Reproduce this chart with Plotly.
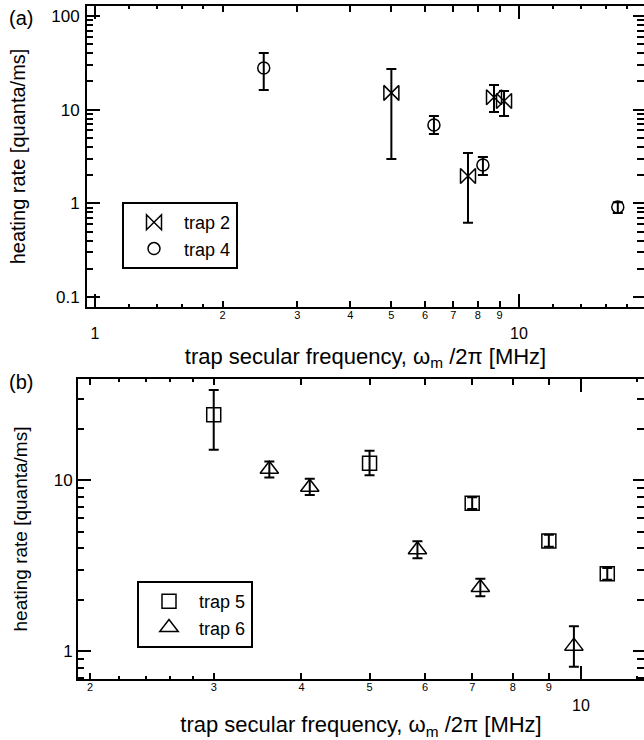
import plotly.graph_objects as go

# ---------------- data ----------------
# panel (a)
trap2_freq = [5.0, 7.58, 8.73, 9.22]
trap2_rate = [15.1, 1.96, 13.6, 12.4]
trap2_hi = [27.2, 3.44, 18.3, 15.8]
trap2_lo = [2.97, 0.62, 9.44, 8.55]

trap4_freq = [2.50, 6.30, 8.22, 17.1]
trap4_rate = [27.9, 6.86, 2.57, 0.914]
trap4_hi = [40.3, 8.55, 3.12, 1.03]
trap4_lo = [16.2, 5.5, 2.01, 0.79]

# panel (b)
trap5_freq = [3.0, 5.0, 7.0, 9.0, 10.9]
trap5_rate = [24.2, 12.6, 7.35, 4.42, 2.84]
trap5_hi = [33.8, 14.9, 7.95, 4.80, 3.07]
trap5_lo = [15.1, 10.7, 6.80, 4.08, 2.62]

trap6_freq = [3.6, 4.11, 5.85, 7.19, 9.77]
trap6_rate = [11.6, 9.1, 3.92, 2.36, 1.07]
trap6_hi = [12.9, 10.2, 4.4, 2.65, 1.40]
trap6_lo = [10.4, 8.2, 3.5, 2.1, 0.81]

# ticks
a_x_major = [1, 10]
a_x_major_text = ["1", "10"]
a_x_mid = [2, 3, 4, 5, 6, 7, 8, 9]
a_x_mid_text = ["2", "3", "4", "5", "6", "7", "8", "9"]
a_x_minor = [1.2, 1.4, 1.6, 1.8, 12, 14, 16, 18]
a_y_major = [0.1, 1, 10, 100]
a_y_major_text = ["0.1", "1", "10", "100"]
a_y_minor = [0.2, 0.3, 0.4, 0.5, 0.6, 0.7, 0.8, 0.9, 2, 3, 4, 5, 6, 7, 8, 9,
             20, 30, 40, 50, 60, 70, 80, 90]

b_x_major = [10]
b_x_major_text = ["10"]
b_x_mid = [2, 3, 4, 5, 6, 7, 8, 9]
b_x_mid_text = ["2", "3", "4", "5", "6", "7", "8", "9"]
b_x_minor = [2.2, 2.4, 2.6, 2.8, 12]
b_y_major = [1, 10]
b_y_major_text = ["1", "10"]
b_y_minor = [0.7, 0.8, 0.9, 2, 3, 4, 5, 6, 7, 8, 9, 20, 30]

x_title = "trap secular frequency, ω<sub>m</sub> /2π [MHz]"
y_title = "heating rate [quanta/ms]"

FONT = "Liberation Sans, Arial, sans-serif"
W, H = 644, 740

# ---------------- layout geometry ----------------
a_dom_x = [87 / W, 1.0]
a_dom_y = [1 - 307 / H, 1 - 6 / H]
b_dom_x = [78 / W, 1.0]
b_dom_y = [1 - 679 / H, 1 - 379 / H]
a_xr = [-0.0189, 1.2948]
a_yr = [-1.1068, 2.1068]
b_xr = [0.2839, 1.0897]
b_yr = [-0.1628, 1.593]

fig = go.Figure()


def add_data(freq, rate, hi, lo, name, symbol, size, xa, ya, legend):
    up = [h - r for h, r in zip(hi, rate)]
    dn = [r - l for r, l in zip(rate, lo)]
    fig.add_trace(go.Scatter(
        x=freq, y=rate, mode="markers", name=name,
        xaxis=xa, yaxis=ya, legend=legend,
        marker=dict(symbol=symbol, size=size, color="black",
                    line=dict(color="black", width=1.5)),
        error_y=dict(type="data", symmetric=False, array=up, arrayminus=dn,
                     color="black", thickness=2, width=5),
    ))


add_data(trap2_freq, trap2_rate, trap2_hi, trap2_lo, "trap 2", "bowtie-open", 15, "x", "y", "legend")
add_data(trap4_freq, trap4_rate, trap4_hi, trap4_lo, "trap 4", "circle-open", 12, "x", "y", "legend")
add_data(trap5_freq, trap5_rate, trap5_hi, trap5_lo, "trap 5", "square-open", 14, "x2", "y2", "legend2")
add_data(trap6_freq, trap6_rate, trap6_hi, trap6_lo, "trap 6", "triangle-up-open", 16, "x2", "y2", "legend2")

lay = {}


def tick_axis(name, anchor, dom, rng, side, vals, length, text=None, fsize=10,
              standoff=None, overlay=None, line=False, title=None, title_size=20,
              title_standoff=0):
    ax = dict(type="log", domain=dom, range=rng, anchor=anchor, side=side,
              showgrid=False, zeroline=False, ticks="inside", ticklen=length,
              tickwidth=2, tickcolor="black", tickmode="array", tickvals=vals,
              color="black")
    if text is not None:
        ax["ticktext"] = text
        ax["showticklabels"] = True
        ax["tickfont"] = dict(family=FONT, size=fsize, color="black")
        if standoff is not None:
            ax["ticklabelstandoff"] = standoff
    else:
        ax["showticklabels"] = False
    if overlay:
        ax["overlaying"] = overlay
    ax["showline"] = line
    if line:
        ax["linewidth"] = 2
        ax["linecolor"] = "black"
        ax["mirror"] = name.startswith("xaxis")
    if title:
        ax["title"] = dict(text=title, standoff=title_standoff,
                           font=dict(family=FONT, size=title_size, color="black"))
    lay[name] = ax
    if overlay:
        # empty helper trace so that the overlaid axis gets its own subplot
        xid = name.replace("axis", "") if name.startswith("xaxis") else anchor
        yid = anchor if name.startswith("xaxis") else name.replace("axis", "")
        fig.add_trace(go.Scatter(x=[], y=[], xaxis=xid, yaxis=yid,
                                 showlegend=False, hoverinfo="skip"))


# ---- panel (a) ----
tick_axis("xaxis", "y", a_dom_x, a_xr, "bottom", a_x_major, 13, a_x_major_text, 16, 11,
          line=True, title=x_title, title_size=22, title_standoff=7)
tick_axis("xaxis3", "y", a_dom_x, a_xr, "bottom", a_x_mid, 6, a_x_mid_text, 11, 0, overlay="x")
tick_axis("xaxis4", "y", a_dom_x, a_xr, "bottom", a_x_minor, 3, overlay="x")
tick_axis("xaxis5", "y", a_dom_x, a_xr, "top", a_x_major, 13, overlay="x")
tick_axis("xaxis6", "y", a_dom_x, a_xr, "top", a_x_mid, 6, overlay="x")
tick_axis("xaxis7", "y", a_dom_x, a_xr, "top", a_x_minor, 3, overlay="x")
tick_axis("yaxis", "x", a_dom_y, a_yr, "left", a_y_major, 13, a_y_major_text, 17, 2,
          line=True, title=y_title, title_size=20, title_standoff=20)
tick_axis("yaxis3", "x", a_dom_y, a_yr, "left", a_y_minor, 6, overlay="y")
tick_axis("yaxis4", "x", a_dom_y, a_yr, "right", a_y_major, 11, overlay="y")
tick_axis("yaxis5", "x", a_dom_y, a_yr, "right", a_y_minor, 7, overlay="y")

# ---- panel (b) ----
tick_axis("xaxis2", "y2", b_dom_x, b_xr, "bottom", b_x_major, 13, b_x_major_text, 16, 11,
          line=True, title=x_title, title_size=22, title_standoff=6)
tick_axis("xaxis8", "y2", b_dom_x, b_xr, "bottom", b_x_mid, 6, b_x_mid_text, 11, 0, overlay="x2")
tick_axis("xaxis9", "y2", b_dom_x, b_xr, "bottom", b_x_minor, 3, overlay="x2")
tick_axis("xaxis10", "y2", b_dom_x, b_xr, "top", b_x_major, 13, overlay="x2")
tick_axis("xaxis11", "y2", b_dom_x, b_xr, "top", b_x_mid, 6, overlay="x2")
tick_axis("xaxis12", "y2", b_dom_x, b_xr, "top", b_x_minor, 3, overlay="x2")
tick_axis("yaxis2", "x2", b_dom_y, b_yr, "left", b_y_major, 13, b_y_major_text, 17, 0,
          line=True, title=y_title, title_size=19, title_standoff=21)
tick_axis("yaxis6", "x2", b_dom_y, b_yr, "left", b_y_minor, 6, overlay="y2")
tick_axis("yaxis7", "x2", b_dom_y, b_yr, "right", b_y_major, 11, overlay="y2")
tick_axis("yaxis8", "x2", b_dom_y, b_yr, "right", b_y_minor, 7, overlay="y2")

fig.update_layout(**lay)

legend_style = dict(bgcolor="white", bordercolor="black", borderwidth=2,
                    font=dict(family=FONT, size=18, color="black"),
                    xanchor="left", yanchor="top", itemwidth=50, itemclick=False)
fig.update_layout(
    width=W, height=H, margin=dict(l=0, r=0, t=0, b=0),
    paper_bgcolor="white", plot_bgcolor="white",
    font=dict(family=FONT, color="black"),
    showlegend=True,
    legend=dict(legend_style, x=122 / W, y=1 - 202 / H),
    legend2=dict(legend_style, x=137 / W, y=1 - 581 / H),
    annotations=[
        dict(text="(a)", x=7 / W, y=1 - 18 / H, xref="paper", yref="paper",
             xanchor="left", yanchor="middle", showarrow=False,
             font=dict(family=FONT, size=20, color="black")),
        dict(text="(b)", x=7 / W, y=1 - 382 / H, xref="paper", yref="paper",
             xanchor="left", yanchor="middle", showarrow=False,
             font=dict(family=FONT, size=20, color="black")),
    ],
)

fig.write_html("out.html", config={"displayModeBar": False},
               post_script="document.body.style.margin='0px';document.body.style.padding='0px';")
